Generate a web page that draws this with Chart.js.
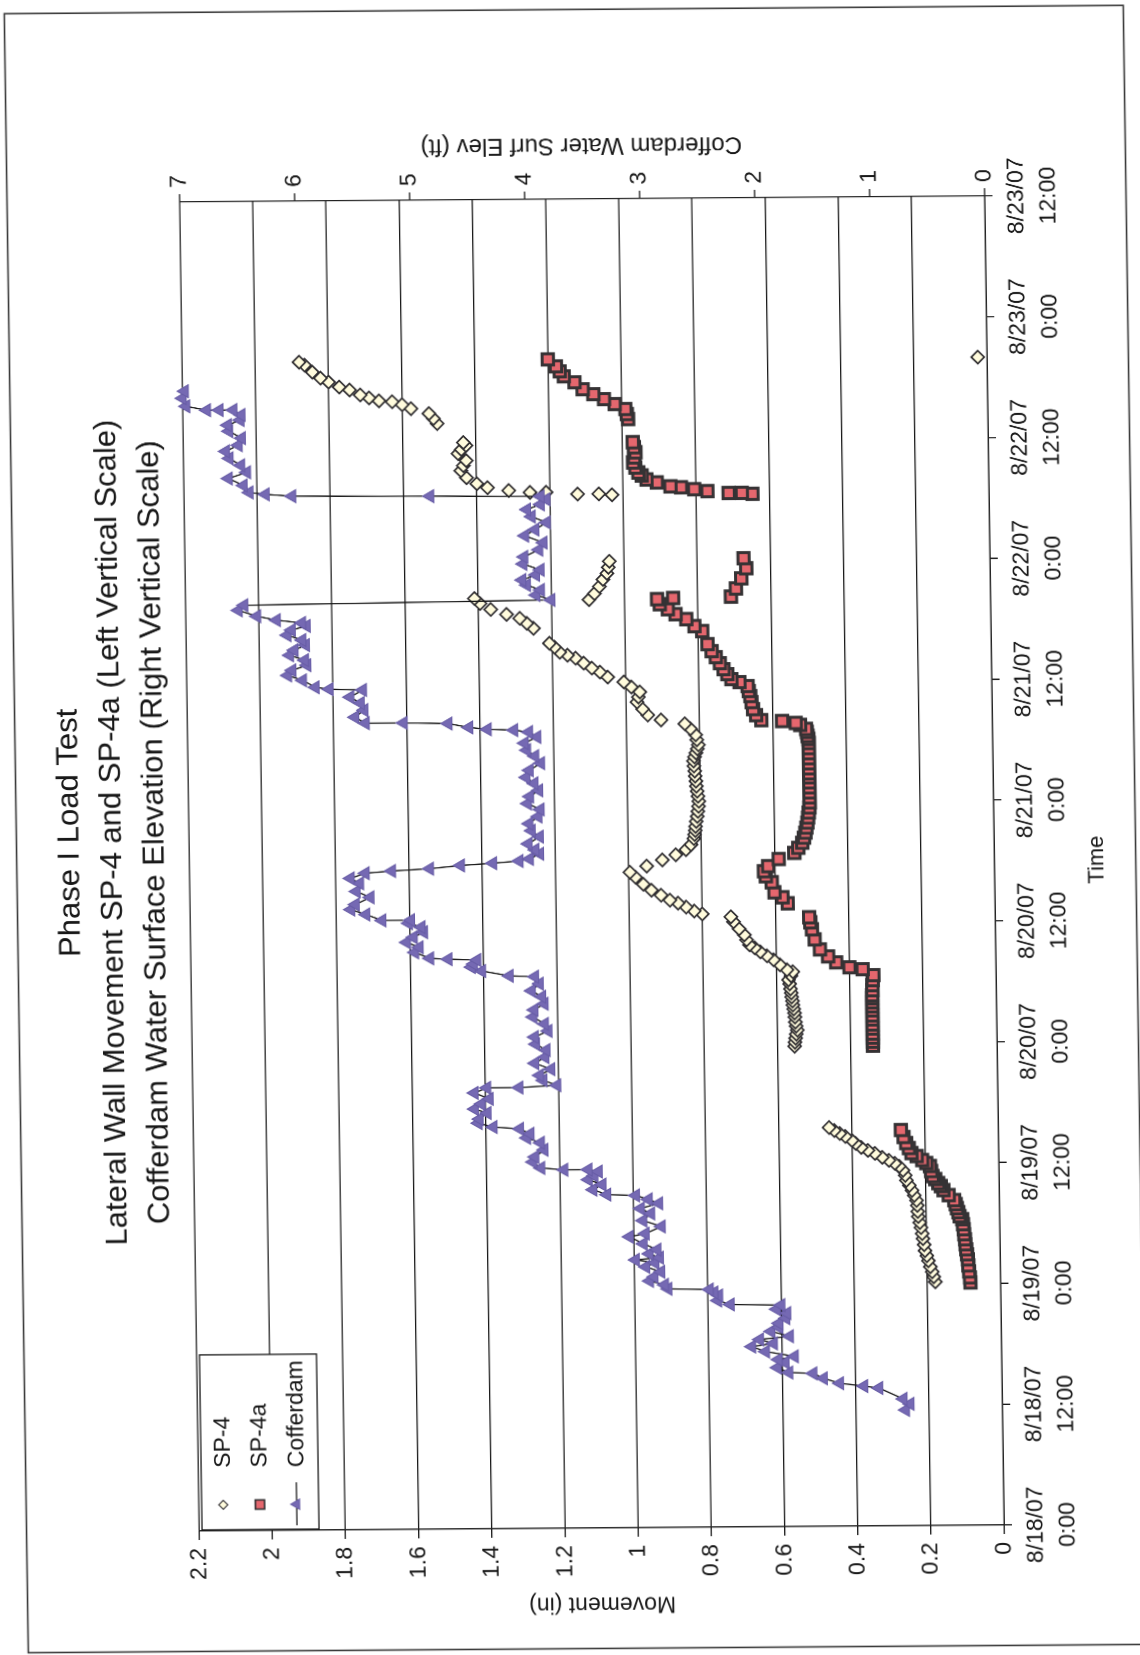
<!DOCTYPE html>
<html>
<head>
<meta charset="utf-8">
<title>Phase I Load Test</title>
<script src="https://cdn.jsdelivr.net/npm/chart.js@4.4.1/dist/chart.umd.min.js"></script>
<style>
  html, body { margin: 0; padding: 0; background: #fff; }
  body { width: 1140px; height: 1655px; overflow: hidden; position: relative; }
  /* the sheet is laid out landscape and turned onto the portrait page */
  #sheet {
    position: absolute; left: 0; top: 0;
    width: 1642px; height: 1122px;
    transform-origin: 0 0;
    transform: matrix(-0.014673, -1, 1, -0.007453, 26.8, 1654.3);
  }
  canvas { display: block; }
</style>
</head>
<body>
<div id="sheet"><canvas id="c" width="1642" height="1122"></canvas></div>
<script>
// Time is in hours from 8/18/07 0:00.
const timeTickLabels = [
  ["8/18/07", "0:00"], ["8/18/07", "12:00"], ["8/19/07", "0:00"], ["8/19/07", "12:00"],
  ["8/20/07", "0:00"], ["8/20/07", "12:00"], ["8/21/07", "0:00"], ["8/21/07", "12:00"],
  ["8/22/07", "0:00"], ["8/22/07", "12:00"], ["8/23/07", "0:00"], ["8/23/07", "12:00"]
];

// SP-4 lateral movement (in)
const sp4Time = [
  24.2, 24.7, 25.2, 25.7, 26.3, 26.8, 27.3, 27.9, 28.5, 29.0, 29.6, 30.1, 30.7, 31.2, 31.8, 32.3, 32.8, 33.3,
  33.8, 34.3, 34.8, 35.3, 35.7, 36.0, 36.3, 36.6, 37.0, 37.3, 37.6, 38.0, 38.3, 38.7, 39.0, 39.3, 39.6,
  47.7, 48.1, 48.5, 48.9, 49.3, 49.7, 50.1, 50.6, 51.0, 51.4, 51.8, 52.2, 52.6, 53.0, 53.4, 53.9, 54.3, 54.7,
  55.1, 55.3, 55.8, 56.3, 56.7, 57.1, 57.5, 57.8, 58.3, 58.8, 59.4, 60.1, 60.6, 60.9, 61.2, 61.6, 62.0, 62.3,
  62.8, 63.3, 63.9, 64.6, 65.1, 65.7, 66.3, 66.8, 67.3, 67.8, 68.4, 68.8, 69.2, 69.6, 70.1, 70.6, 71.1, 71.6,
  72.1, 72.6, 73.1, 73.6, 74.1, 74.6, 75.1, 75.6, 76.1, 76.5, 76.9, 77.3, 77.7, 78.2, 78.7, 79.3,
  79.8, 80.2, 80.7, 81.3, 82.0, 82.5, 83.0, 83.5, 84.0, 84.5, 85.0, 85.4, 85.9, 86.4, 86.7, 87.0, 87.5,
  87.9, 89.4, 89.9, 90.4, 90.8, 91.3, 91.9, 92.4,
  92.2, 92.8, 93.5, 94.2, 94.8, 95.4, 96.0,
  102.6, 102.7, 102.7, 102.9, 102.9, 103.1, 103.4, 103.8, 104.4, 105.1, 105.6, 106.1, 106.8, 107.2, 107.6, 107.9,
  109.8, 110.3, 110.8, 111.3, 111.7, 112.0, 112.1, 112.4, 112.7, 113.2, 113.5, 114.0, 114.4, 115.0, 115.7, 116.0,
  116.0
];
const sp4Move = [
  0.178, 0.182, 0.186, 0.191, 0.196, 0.200, 0.205, 0.207, 0.210, 0.212, 0.215, 0.218, 0.222, 0.223, 0.224, 0.226, 0.232, 0.238,
  0.245, 0.253, 0.256, 0.262, 0.272, 0.284, 0.300, 0.318, 0.338, 0.357, 0.375, 0.390, 0.400, 0.418, 0.433, 0.448, 0.462,
  0.553, 0.552, 0.550, 0.548, 0.545, 0.548, 0.550, 0.551, 0.552, 0.554, 0.556, 0.557, 0.559, 0.560, 0.562, 0.564, 0.567, 0.560,
  0.555, 0.571, 0.590, 0.607, 0.625, 0.643, 0.658, 0.672, 0.680, 0.686, 0.700, 0.715, 0.722, 0.800, 0.822, 0.844, 0.866, 0.888,
  0.912, 0.938, 0.960, 0.981, 0.996, 0.950, 0.907, 0.870, 0.842, 0.828, 0.820, 0.818, 0.816, 0.815, 0.813, 0.810, 0.808, 0.806,
  0.805, 0.807, 0.809, 0.811, 0.812, 0.814, 0.815, 0.817, 0.818, 0.815, 0.811, 0.807, 0.804, 0.808, 0.811, 0.825,
  0.840, 0.905, 0.941, 0.955, 0.970, 0.966, 0.962, 0.985, 1.005, 1.049, 1.070, 1.092, 1.114, 1.136, 1.158, 1.179, 1.193,
  1.207, 1.250, 1.268, 1.287, 1.323, 1.366, 1.395, 1.410,
  1.097, 1.082, 1.068, 1.058, 1.047, 1.043, 1.040,
  1.030, 1.066, 1.124, 1.210, 1.254, 1.312, 1.370, 1.399, 1.427, 1.442, 1.435, 1.427, 1.449, 1.440, 1.427, 1.434,
  1.505, 1.515, 1.527, 1.576, 1.600, 1.627, 1.663, 1.690, 1.714, 1.743, 1.771, 1.800, 1.822, 1.844, 1.865, 1.880,
  0.025
];

// SP-4a lateral movement (in)
const sp4aTime = [
  24.1, 24.6, 25.2, 25.8, 26.4, 26.9, 27.4, 27.9, 28.4, 28.9, 29.4, 29.9, 30.4, 30.7, 31.1, 31.5, 31.9, 32.3,
  32.8, 33.3, 33.7, 34.0, 34.4, 34.7, 35.2, 35.7, 36.0, 36.3, 36.7, 37.0, 37.5, 38.0, 38.6, 39.3,
  47.7, 48.1, 48.5, 48.9, 49.4, 49.8, 50.3, 50.7, 51.2, 51.6, 52.0, 52.4, 52.7, 53.2, 53.7, 54.2, 54.7,
  55.3, 55.5, 56.0, 56.6, 57.3, 58.3, 59.3, 60.0, 60.5,
  61.9, 62.5, 63.0, 64.0, 64.6, 65.1, 65.6, 66.3, 66.9, 67.4, 67.9, 68.4, 68.9, 69.4, 69.9, 70.4, 70.9, 71.4,
  71.9, 72.4, 72.9, 73.4, 73.9, 74.4, 74.8, 75.3, 75.8, 76.3, 76.8, 77.3, 77.8, 78.2, 78.5, 78.9, 79.2, 79.6,
  79.8, 80.0, 80.1, 80.6, 81.2, 81.9, 82.5, 83.0, 83.5, 83.9, 84.2, 84.7, 85.2, 85.8, 86.4, 87.0, 87.7,
  89.0, 89.5, 90.2, 90.7, 91.2, 91.7, 92.2, 92.3,
  92.4, 93.2, 94.2, 95.2, 96.2,
  102.6, 102.7, 102.7, 102.9, 103.1, 103.3, 103.4, 103.8, 104.1, 104.5, 104.8, 105.3, 105.8, 106.3, 106.8, 107.3, 107.8,
  110.1, 110.6, 111.1, 111.6, 112.1, 112.6, 113.1, 113.8, 114.4, 114.9, 115.4, 116.1
];
const sp4aMove = [
  0.082, 0.083, 0.085, 0.087, 0.088, 0.090, 0.092, 0.094, 0.095, 0.097, 0.098, 0.100, 0.102, 0.109, 0.112, 0.116, 0.119, 0.123,
  0.138, 0.152, 0.159, 0.166, 0.174, 0.181, 0.185, 0.188, 0.198, 0.209, 0.224, 0.238, 0.245, 0.252, 0.259, 0.266,
  0.339, 0.339, 0.339, 0.339, 0.339, 0.339, 0.339, 0.339, 0.339, 0.339, 0.339, 0.339, 0.339, 0.338, 0.338, 0.337, 0.335,
  0.364, 0.400, 0.436, 0.458, 0.480, 0.494, 0.501, 0.505, 0.508,
  0.566, 0.580, 0.602, 0.609, 0.625, 0.630, 0.618, 0.589, 0.546, 0.535, 0.524, 0.519, 0.515, 0.512, 0.509, 0.507, 0.505, 0.503,
  0.502, 0.502, 0.502, 0.502, 0.502, 0.502, 0.502, 0.502, 0.502, 0.502, 0.502, 0.502, 0.502, 0.503, 0.505, 0.507, 0.509, 0.525,
  0.537, 0.574, 0.631, 0.645, 0.653, 0.657, 0.660, 0.664, 0.667, 0.689, 0.711, 0.722, 0.732, 0.742, 0.753, 0.764, 0.775,
  0.789, 0.810, 0.832, 0.861, 0.882, 0.904, 0.911, 0.867,
  0.709, 0.695, 0.680, 0.666, 0.673,
  0.646, 0.675, 0.711, 0.769, 0.805, 0.841, 0.870, 0.907, 0.935, 0.948, 0.957, 0.965, 0.971, 0.968, 0.964, 0.968, 0.971,
  0.983, 0.986, 0.990, 1.019, 1.048, 1.077, 1.106, 1.128, 1.157, 1.168, 1.178, 1.200
];

// Cofferdam water surface elevation (ft)
const cofferTime = [
  11.5, 12.1, 12.6, 13.7, 13.9, 14.2, 14.7, 15.2, 15.3, 15.8, 16.3, 16.6, 16.9, 17.4, 17.9, 18.2, 18.6, 18.9,
  19.4, 19.8, 20.2, 20.7, 21.2, 21.6, 22.0, 22.1, 22.5, 23.0, 23.3, 23.6, 23.7, 24.1, 24.5, 24.9, 25.4, 25.9,
  26.3, 26.6, 26.8, 27.2, 27.6, 28.2, 28.9, 29.2, 29.9, 30.5, 31.2, 31.7, 32.2, 32.6, 33.0, 33.1, 33.6, 34.1,
  34.6, 35.0, 35.4, 35.6, 35.6, 35.8, 36.4, 36.9, 37.6, 38.3, 38.8, 39.2, 39.7, 39.9, 40.3, 40.7, 41.3, 41.7,
  42.2, 42.7, 43.3, 43.8, 43.8, 44.0, 44.5, 45.0, 45.6, 46.2, 46.8, 47.5, 48.1, 48.8, 49.4, 50.1, 50.8, 51.5,
  52.1, 52.8, 53.4, 54.1, 54.8, 54.9, 55.4, 55.8, 56.1, 56.5, 56.6, 56.7, 57.3, 57.8, 58.3, 58.8, 59.3, 59.8,
  60.2, 60.5, 60.5, 61.1, 61.6, 62.1, 62.8, 63.4, 64.2, 64.7, 65.2, 65.4, 65.6, 65.9, 66.1, 66.3, 66.5, 67.0,
  67.4, 68.0, 68.7, 69.3, 70.0, 70.7, 71.4, 72.0, 72.7, 73.3, 74.0, 74.6, 75.3, 76.0, 76.7, 77.3, 78.0, 78.6,
  79.1, 79.3, 79.4, 79.6, 80.0, 80.1, 80.1, 80.7, 81.4, 82.1, 82.7, 83.4, 83.5, 83.7, 84.4, 84.9, 85.4, 85.9,
  86.4, 86.9, 87.4, 87.9, 88.4, 88.9, 89.4, 89.8, 90.1, 90.4, 90.8, 91.4, 91.9, 92.2, 92.7, 93.2, 93.7, 94.2,
  94.7, 95.2, 95.8, 96.5, 97.2, 97.9, 98.6, 99.2, 99.9, 100.5, 101.2, 101.7, 102.2, 102.5, 102.6, 102.7, 102.9,
  103.1, 103.8, 104.5, 105.1, 105.8, 106.5, 107.2, 107.8, 108.5, 109.2, 109.8, 110.3, 110.8, 111.3, 111.3,
  111.3, 111.7, 112.5, 113.2
];
const cofferElev = [
  0.84, 0.80, 0.86, 1.07, 1.20, 1.41, 1.55, 1.64, 1.85, 1.95, 1.88, 1.94, 1.80, 2.05, 2.17, 1.98, 2.10, 1.84,
  2.00, 1.93, 1.93, 1.87, 1.86, 1.95, 1.91, 2.35, 2.46, 2.45, 2.49, 2.53, 2.89, 2.92, 3.05, 3.01, 2.95, 3.08,
  3.00, 3.17, 2.96, 3.05, 2.98, 3.10, 3.22, 3.08, 2.94, 3.10, 3.03, 3.12, 2.96, 3.05, 3.16, 3.41, 3.53, 3.45,
  3.57, 3.52, 3.48, 3.57, 3.78, 3.98, 4.05, 4.03, 3.95, 3.98, 4.10, 4.07, 4.16, 4.39, 4.52, 4.51, 4.44, 4.55,
  4.49, 4.42, 4.55, 4.44, 4.16, 3.83, 3.95, 3.98, 3.88, 4.02, 3.93, 3.92, 4.01, 4.02, 3.90, 3.93, 4.03, 4.02,
  3.93, 3.95, 4.04, 3.97, 4.01, 4.23, 4.47, 4.56, 4.54, 4.51, 4.76, 4.92, 5.05, 5.01, 5.12, 5.06, 4.97, 4.99,
  5.10, 5.08, 5.33, 5.47, 5.60, 5.56, 5.43, 5.55, 5.52, 5.60, 5.47, 5.24, 4.91, 4.64, 4.36, 4.13, 4.04, 3.95,
  3.99, 4.05, 3.95, 4.02, 4.04, 3.96, 3.94, 4.05, 4.03, 3.95, 3.99, 4.06, 4.03, 3.93, 3.98, 4.05, 4.07, 3.96,
  4.03, 4.16, 4.39, 4.55, 4.73, 5.12, 5.45, 5.54, 5.46, 5.49, 5.58, 5.47, 5.76, 5.88, 5.99, 6.12, 6.08, 5.95,
  5.97, 6.10, 6.06, 5.96, 5.99, 6.12, 6.08, 5.95, 5.99, 6.21, 6.38, 6.54, 6.49, 3.82, 3.95, 3.91, 4.03, 4.07,
  3.95, 3.91, 4.06, 4.05, 3.92, 3.88, 4.04, 3.95, 3.85, 3.98, 4.02, 3.90, 3.85, 3.90, 4.86, 6.06, 6.29,
  6.43, 6.48, 6.61, 6.45, 6.50, 6.60, 6.63, 6.52, 6.49, 6.60, 6.61, 6.50, 6.49, 6.56, 6.68,
  6.79, 6.97, 7.00, 6.98
];

const FONT = "'Liberation Sans', Arial, Helvetica, sans-serif";
const INK = '#181818';

const pts = (xs, ys) => xs.map((x, i) => ({ x: x, y: ys[i] }));

// Axis titles, legend box and outer frame
const decor = {
  id: 'decor',
  beforeDraw(chart) {
    const { ctx, width, height } = chart;
    ctx.save();
    ctx.fillStyle = '#fff';
    ctx.fillRect(0, 0, width, height);
    ctx.strokeStyle = '#3a3a3a';
    ctx.lineWidth = 1.6;
    ctx.strokeRect(1.5, 1.5, width - 3, height - 3);
    ctx.restore();
  },
  afterDraw(chart) {
    const { ctx, chartArea: a } = chart;
    const midY = (a.top + a.bottom) / 2;
    const midX = (a.left + a.right) / 2;
    ctx.save();
    ctx.fillStyle = INK;
    ctx.textAlign = 'center';
    ctx.textBaseline = 'middle';

    ctx.font = '23px ' + FONT;
    ctx.save();
    ctx.translate(a.left - 76, midY);
    ctx.rotate(-Math.PI / 2);
    ctx.fillText('Movement (in)', 0, 0);
    ctx.restore();

    ctx.font = '24px ' + FONT;
    ctx.save();
    ctx.translate(a.right + 54, midY);
    ctx.rotate(-Math.PI / 2);
    ctx.fillText('Cofferdam Water Surf Elev (ft)', 0, 0);
    ctx.restore();

    ctx.font = '22px ' + FONT;
    ctx.fillText('Time', midX, a.bottom + 103);

    // legend
    const lx = a.left + 1, ly = a.top + 3, lw = 175, lh = 117;
    ctx.fillStyle = '#fff';
    ctx.fillRect(lx, ly, lw, lh);
    ctx.strokeStyle = INK;
    ctx.lineWidth = 1.3;
    ctx.strokeRect(lx, ly, lw, lh);

    const ds = chart.data.datasets;
    const rows = [ly + 21.6, ly + 58.3, ly + 95];
    ctx.font = '23px ' + FONT;
    ctx.textAlign = 'left';
    ds.forEach((d, i) => {
      const y = rows[i];
      if (d.showLine) {
        ctx.strokeStyle = d.borderColor;
        ctx.lineWidth = 1.3;
        ctx.beginPath();
        ctx.moveTo(lx + 4, y);
        ctx.lineTo(lx + 47, y);
        ctx.stroke();
      }
      ctx.fillStyle = d.pointBackgroundColor;
      ctx.strokeStyle = d.pointBorderColor;
      ctx.lineWidth = d.legendBorder;
      Chart.helpers.drawPoint(ctx, {
        pointStyle: d.pointStyle,
        radius: d.legendRadius,
        rotation: 0,
        borderWidth: d.legendBorder
      }, lx + 25, y);
      ctx.fillStyle = INK;
      ctx.fillText(d.label, lx + 62, y + 1);
    });
    ctx.restore();
  }
};

new Chart(document.getElementById('c'), {
  type: 'scatter',
  data: {
    datasets: [
      {
        label: 'SP-4',
        data: pts(sp4Time, sp4Move),
        yAxisID: 'y',
        showLine: false,
        pointStyle: 'rectRot',
        pointRadius: 6.5,
        legendRadius: 4.5,
        legendBorder: 1.1,
        pointBackgroundColor: '#fffbdc',
        pointBorderColor: '#2f2d30',
        pointBorderWidth: 1.7,
        order: 3,
        clip: false
      },
      {
        label: 'SP-4a',
        data: pts(sp4aTime, sp4aMove),
        yAxisID: 'y',
        showLine: false,
        pointStyle: 'rect',
        pointRadius: 8,
        legendRadius: 6.5,
        legendBorder: 1.6,
        pointBackgroundColor: '#e5676e',
        pointBorderColor: '#353234',
        pointBorderWidth: 3,
        order: 2,
        clip: false
      },
      {
        label: 'Cofferdam',
        data: pts(cofferTime, cofferElev),
        yAxisID: 'y2',
        showLine: true,
        borderColor: '#151515',
        borderWidth: 1.3,
        pointStyle: 'triangle',
        pointRadius: 7.5,
        legendRadius: 6,
        legendBorder: 1,
        pointBackgroundColor: '#7569b3',
        pointBorderColor: '#675ca6',
        pointBorderWidth: 1,
        order: 1,
        clip: false
      }
    ]
  },
  options: {
    responsive: false,
    devicePixelRatio: 2,
    animation: false,
    events: [],
    layout: { padding: 0 },
    plugins: {
      legend: { display: false },
      tooltip: { enabled: false },
      title: {
        display: true,
        text: [
          'Phase I Load Test',
          'Lateral Wall Movement SP-4 and SP-4a (Left Vertical Scale)',
          'Cofferdam Water Surface Elevation (Right Vertical Scale)'
        ],
        color: INK,
        font: { family: FONT, size: 31, weight: 'normal', lineHeight: 1.371 },
        padding: { top: 33.75, bottom: 12.75 }
      }
    },
    scales: {
      x: {
        type: 'linear',
        position: 'bottom',
        min: 0,
        max: 132,
        afterFit: s => { s.height = 143; },
        ticks: {
          stepSize: 12,
          autoSkip: false,
          maxRotation: 0,
          padding: 8,
          color: INK,
          font: { family: FONT, size: 23, lineHeight: 1.391 },
          callback: v => timeTickLabels[Math.round(v / 12)]
        },
        grid: { drawOnChartArea: false, drawTicks: true, tickLength: 8, color: INK, lineWidth: 1.3 },
        border: { display: true, color: INK, width: 1.4 }
      },
      y: {
        type: 'linear',
        position: 'left',
        min: 0,
        max: 2.2,
        afterFit: s => { s.width = 122; },
        ticks: {
          stepSize: 0.2,
          autoSkip: false,
          padding: 8,
          color: INK,
          font: { family: FONT, size: 23 },
          callback: v => String(Math.round(v * 10) / 10)
        },
        grid: { drawOnChartArea: true, drawTicks: true, tickLength: 9, color: INK, lineWidth: 1.3 },
        border: { display: true, color: INK, width: 1.4 }
      },
      y2: {
        type: 'linear',
        position: 'right',
        min: 0,
        max: 7,
        afterFit: s => { s.width = 191; },
        ticks: {
          stepSize: 1,
          autoSkip: false,
          padding: 6,
          color: INK,
          font: { family: FONT, size: 23 }
        },
        grid: { drawOnChartArea: false, drawTicks: true, tickLength: 8, color: INK, lineWidth: 1.3 },
        border: { display: true, color: INK, width: 1.4 }
      }
    }
  },
  plugins: [decor]
});
</script>
</body>
</html>
